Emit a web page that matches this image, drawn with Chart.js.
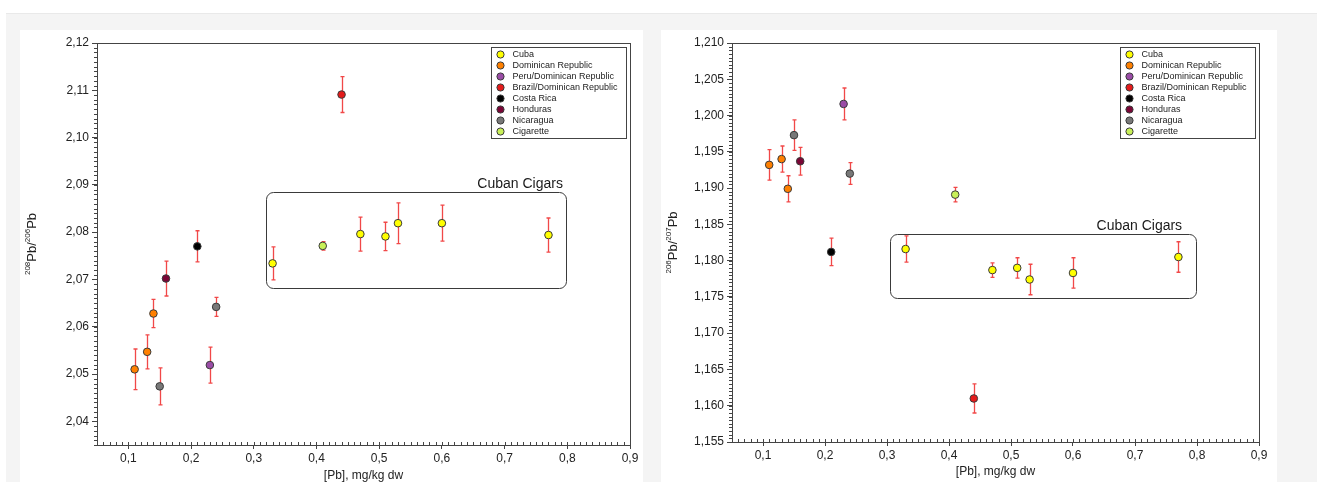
<!DOCTYPE html>
<html>
<head>
<meta charset="utf-8">
<script src="https://cdn.jsdelivr.net/npm/chart.js@4.4.0/dist/chart.umd.min.js"></script>
<style>
  html, body { margin: 0; padding: 0; background: #fff; }
  body { width: 1317px; height: 482px; overflow: hidden; position: relative; font-family: "Liberation Sans", Arial, sans-serif; }
  #fundo { position: absolute; left: 6px; top: 13px; width: 1311px; height: 469px; background: #f4f4f4; border-top: 1px solid #e9e9e9; }
  .painel { position: absolute; top: 30px; height: 452px; background: #fff; }
  #painelA { left: 20px; width: 623px; }
  #painelB { left: 661px; width: 616px; }
  canvas { display: block; }
</style>
</head>
<body>
<div id="fundo"></div>
<div class="painel" id="painelA"><canvas id="grafico208" width="623" height="452"></canvas></div>
<div class="painel" id="painelB"><canvas id="grafico206" width="616" height="452"></canvas></div>

<script>
// Origens das amostras (ordem da legenda)
const paises = ['Cuba', 'Dominican Republic', 'Peru/Dominican Republic', 'Brazil/Dominican Republic',
                'Costa Rica', 'Honduras', 'Nicaragua', 'Cigarette'];
const cores = ['#ffff00', '#ff8000', '#9a4ca6', '#e41b1b', '#000000', '#7a0636', '#787878', '#c8f058'];

// [Pb], mg/kg dw
const pbCuba = [0.33, 0.47, 0.51, 0.53, 0.60, 0.77];
const pbDominicana = [0.11, 0.13, 0.14];
const pbPeru = [0.23];
const pbBrasil = [0.44];
const pbCostaRica = [0.21];
const pbHonduras = [0.16];
const pbNicaragua = [0.15, 0.24];
const pbCigarro = [0.41];

// 208Pb/206Pb e incerteza
const r208Cuba = [2.0734, 2.0796, 2.0791, 2.0819, 2.0819, 2.0794];
const e208Cuba = [0.0035, 0.0036, 0.0030, 0.0043, 0.0038, 0.0036];
const r208Dominicana = [2.0510, 2.0547, 2.0628];
const e208Dominicana = [0.0043, 0.0036, 0.0030];
const r208Peru = [2.0519];
const e208Peru = [0.0038];
const r208Brasil = [2.1091];
const e208Brasil = [0.0038];
const r208CostaRica = [2.0770];
const e208CostaRica = [0.0033];
const r208Honduras = [2.0702];
const e208Honduras = [0.0037];
const r208Nicaragua = [2.0474, 2.0642];
const e208Nicaragua = [0.0039, 0.0020];
const r208Cigarro = [2.0771];
const e208Cigarro = [0.0009];

// 206Pb/207Pb e incerteza
const r206Cuba = [1.1816, 1.1787, 1.1790, 1.1774, 1.1783, 1.1805];
const e206Cuba = [0.0018, 0.0010, 0.0014, 0.0021, 0.0021, 0.0021];
const r206Dominicana = [1.1932, 1.1940, 1.1899];
const e206Dominicana = [0.0021, 0.0018, 0.0018];
const r206Peru = [1.2016];
const e206Peru = [0.0022];
const r206Brasil = [1.1610];
const e206Brasil = [0.0020];
const r206CostaRica = [1.1812];
const e206CostaRica = [0.0019];
const r206Honduras = [1.1937];
const e206Honduras = [0.0019];
const r206Nicaragua = [1.1973, 1.1920];
const e206Nicaragua = [0.0021, 0.0015];
const r206Cigarro = [1.1891];
const e206Cigarro = [0.0010];

// Marcas dos eixos
const xTicks = [0.1, 0.2, 0.3, 0.4, 0.5, 0.6, 0.7, 0.8, 0.9];
const xTickLabels = ['0,1', '0,2', '0,3', '0,4', '0,5', '0,6', '0,7', '0,8', '0,9'];
const y208Ticks = [2.04, 2.05, 2.06, 2.07, 2.08, 2.09, 2.10, 2.11, 2.12];
const y208TickLabels = ['2,04', '2,05', '2,06', '2,07', '2,08', '2,09', '2,10', '2,11', '2,12'];
const y206Ticks = [1.155, 1.160, 1.165, 1.170, 1.175, 1.180, 1.185, 1.190, 1.195, 1.200, 1.205, 1.210];
const y206TickLabels = ['1,155', '1,160', '1,165', '1,170', '1,175', '1,180', '1,185', '1,190', '1,195', '1,200', '1,205', '1,210'];

// Caixa "Cuban Cigars" (coordenadas de dados)
const caixa208 = { x1: 0.320, x2: 0.798, y1: 2.0681, y2: 2.0886, textoX: 0.793 };
const caixa206 = { x1: 0.305, x2: 0.798, y1: 1.1748, y2: 1.1837, textoX: 0.776 };

const pbs = [pbCuba, pbDominicana, pbPeru, pbBrasil, pbCostaRica, pbHonduras, pbNicaragua, pbCigarro];
const razoes208 = [r208Cuba, r208Dominicana, r208Peru, r208Brasil, r208CostaRica, r208Honduras, r208Nicaragua, r208Cigarro];
const erros208 = [e208Cuba, e208Dominicana, e208Peru, e208Brasil, e208CostaRica, e208Honduras, e208Nicaragua, e208Cigarro];
const razoes206 = [r206Cuba, r206Dominicana, r206Peru, r206Brasil, r206CostaRica, r206Honduras, r206Nicaragua, r206Cigarro];
const erros206 = [e206Cuba, e206Dominicana, e206Peru, e206Brasil, e206CostaRica, e206Honduras, e206Nicaragua, e206Cigarro];

const FONTE = '"Liberation Sans", Arial, sans-serif';

function montarDatasets(razoes, erros) {
  return paises.map((nome, i) => ({
    label: nome,
    data: pbs[i].map((x, j) => ({ x: x, y: razoes[i][j], e: erros[i][j] })),
    backgroundColor: cores[i],
    borderColor: '#3a3a3a',
    borderWidth: 1,
    pointRadius: 3.8
  }));
}

// Barras de erro verticais
const barrasErro = {
  id: 'barrasErro',
  beforeDatasetsDraw(chart) {
    const ctx = chart.ctx;
    const sx = chart.scales.x, sy = chart.scales.y;
    ctx.save();
    ctx.strokeStyle = 'rgba(238,40,40,0.85)';
    ctx.lineWidth = 1.3;
    chart.data.datasets.forEach(ds => {
      ds.data.forEach(p => {
        const px = Math.round(sx.getPixelForValue(p.x)) + 0.5;
        const topo = sy.getPixelForValue(p.y + p.e);
        const base = sy.getPixelForValue(p.y - p.e);
        ctx.beginPath();
        ctx.moveTo(px, topo); ctx.lineTo(px, base);
        ctx.moveTo(px - 2, topo); ctx.lineTo(px + 2, topo);
        ctx.moveTo(px - 2, base); ctx.lineTo(px + 2, base);
        ctx.stroke();
      });
    });
    ctx.restore();
  }
};

// Moldura e marcas menores
const moldura = {
  id: 'moldura',
  afterDraw(chart, args, opts) {
    const ctx = chart.ctx;
    const a = chart.chartArea;
    const sx = chart.scales.x, sy = chart.scales.y;
    ctx.save();
    ctx.strokeStyle = '#444';
    ctx.lineWidth = 1;
    ctx.strokeRect(Math.round(a.left) + 0.5, Math.round(a.top) + 0.5, Math.round(a.right - a.left), Math.round(a.bottom - a.top));
    ctx.beginPath();
    const k0 = Math.ceil(sx.min / opts.passoX - 1e-6), k1 = Math.floor(sx.max / opts.passoX + 1e-6);
    for (let k = k0; k <= k1; k++) {
      const px = Math.round(sx.getPixelForValue(k * opts.passoX)) + 0.5;
      ctx.moveTo(px, a.bottom); ctx.lineTo(px, a.bottom - 3);
    }
    const m0 = Math.ceil(sy.min / opts.passoY - 1e-6), m1 = Math.floor(sy.max / opts.passoY + 1e-6);
    for (let k = m0; k <= m1; k++) {
      const py = Math.round(sy.getPixelForValue(k * opts.passoY)) + 0.5;
      ctx.moveTo(a.left, py); ctx.lineTo(a.left - 3, py);
    }
    ctx.stroke();
    ctx.restore();
  }
};

// Caixa "Cuban Cigars"
const caixaCubana = {
  id: 'caixaCubana',
  beforeDatasetsDraw(chart, args, opts) {
    const c = opts.caixa;
    if (!c) return;
    const ctx = chart.ctx;
    const sx = chart.scales.x, sy = chart.scales.y;
    const l = Math.round(sx.getPixelForValue(c.x1)) + 0.5, r = Math.round(sx.getPixelForValue(c.x2)) + 0.5;
    const t = Math.round(sy.getPixelForValue(c.y2)) + 0.5, b = Math.round(sy.getPixelForValue(c.y1)) + 0.5;
    const raio = 7;
    ctx.save();
    ctx.strokeStyle = '#3a3a3a';
    ctx.lineWidth = 1;
    ctx.beginPath();
    ctx.moveTo(l + raio, t);
    ctx.arcTo(r, t, r, b, raio);
    ctx.arcTo(r, b, l, b, raio);
    ctx.arcTo(l, b, l, t, raio);
    ctx.arcTo(l, t, r, t, raio);
    ctx.closePath();
    ctx.stroke();
    ctx.fillStyle = '#1a1a1a';
    ctx.font = '14px ' + FONTE;
    ctx.textAlign = 'right';
    ctx.textBaseline = 'middle';
    ctx.fillText('Cuban Cigars', sx.getPixelForValue(c.textoX), t - 8);
    ctx.restore();
  }
};

// Legenda dentro da área do gráfico
const legendaCaixa = {
  id: 'legendaCaixa',
  afterDraw(chart) {
    const ctx = chart.ctx;
    const a = chart.chartArea;
    const largura = 135, altura = 91;
    const esq = Math.round(a.right - 4 - largura) + 0.5, topo = Math.round(a.top + 4) + 0.5;
    ctx.save();
    ctx.fillStyle = '#fff';
    ctx.fillRect(esq, topo, largura, altura);
    ctx.strokeStyle = '#444';
    ctx.lineWidth = 1;
    ctx.strokeRect(esq, topo, largura, altura);
    ctx.font = '9px ' + FONTE;
    ctx.textBaseline = 'middle';
    ctx.textAlign = 'left';
    chart.data.datasets.forEach((ds, i) => {
      const cy = topo + 7 + i * 11;
      ctx.beginPath();
      ctx.arc(esq + 9, cy, 3.6, 0, Math.PI * 2);
      ctx.fillStyle = ds.backgroundColor;
      ctx.fill();
      ctx.strokeStyle = '#3a3a3a';
      ctx.stroke();
      ctx.fillStyle = '#222';
      ctx.fillText(ds.label, esq + 21, cy + 0.5);
    });
    ctx.restore();
  }
};

// Título do eixo y com sobrescritos
const tituloY = {
  id: 'tituloY',
  afterDraw(chart, args, opts) {
    const ctx = chart.ctx;
    const a = chart.chartArea;
    const partes = [[opts.sup1, true], ['Pb/', false], [opts.sup2, true], ['Pb', false]];
    ctx.save();
    ctx.translate(11, (a.top + a.bottom) / 2);
    ctx.rotate(-Math.PI / 2);
    ctx.fillStyle = '#222';
    ctx.textBaseline = 'alphabetic';
    let total = 0;
    partes.forEach(p => { ctx.font = (p[1] ? '8px ' : '13px ') + FONTE; total += ctx.measureText(p[0]).width; });
    let x = -total / 2;
    partes.forEach(p => {
      ctx.font = (p[1] ? '8px ' : '13px ') + FONTE;
      ctx.fillText(p[0], x, p[1] ? -1 : 4.5);
      x += ctx.measureText(p[0]).width;
    });
    ctx.restore();
  }
};

function criarGrafico(id, datasets, yMin, yMax, yTicks, yLabels, larguraY, alturaX, padDir, tituloPad, caixa, passoY, sup2) {
  return new Chart(document.getElementById(id), {
    type: 'scatter',
    data: { datasets: datasets },
    plugins: [barrasErro, caixaCubana, moldura, legendaCaixa, tituloY],
    options: {
      responsive: false,
      animation: false,
      events: [],
      layout: { padding: { top: 13, right: padDir, left: 0, bottom: 0 } },
      plugins: {
        legend: { display: false },
        tooltip: { enabled: false },
        moldura: { passoX: 0.01, passoY: passoY },
        caixaCubana: { caixa: caixa },
        tituloY: { sup1: sup2 === '207' ? '206' : '208', sup2: sup2 }
      },
      scales: {
        x: {
          type: 'linear',
          min: 0.05,
          max: 0.9,
          afterBuildTicks: s => { s.ticks = xTicks.map(v => ({ value: v })); },
          afterFit: s => { s.height = alturaX; },
          ticks: {
            callback: (v) => xTickLabels[xTicks.findIndex(t => Math.abs(t - v) < 1e-9)],
            font: { family: FONTE, size: 12 },
            color: '#222',
            padding: 2,
            maxRotation: 0
          },
          grid: { drawOnChartArea: false, drawTicks: true, tickLength: 4, color: '#444' },
          border: { color: '#444' },
          title: {
            display: true,
            text: '[Pb], mg/kg dw',
            font: { family: FONTE, size: 12, lineHeight: 1 },
            color: '#222',
            padding: { top: 0, bottom: tituloPad }
          }
        },
        y: {
          type: 'linear',
          min: yMin,
          max: yMax,
          afterBuildTicks: s => { s.ticks = yTicks.map(v => ({ value: v })); },
          afterFit: s => { s.width = larguraY; },
          ticks: {
            callback: (v) => yLabels[yTicks.findIndex(t => Math.abs(t - v) < 1e-9)],
            font: { family: FONTE, size: 12 },
            color: '#222',
            padding: 3
          },
          grid: { drawOnChartArea: false, drawTicks: true, tickLength: 5, color: '#444' },
          border: { color: '#444' }
        }
      }
    }
  });
}

criarGrafico('grafico208', montarDatasets(razoes208, erros208), 2.035, 2.12, y208Ticks, y208TickLabels,
             77, 37, 13, 0, caixa208, 0.001, '206');
criarGrafico('grafico206', montarDatasets(razoes206, erros206), 1.155, 1.210, y206Ticks, y206TickLabels,
             71, 40, 18, 4, caixa206, 0.0005, '207');
</script>
</body>
</html>
